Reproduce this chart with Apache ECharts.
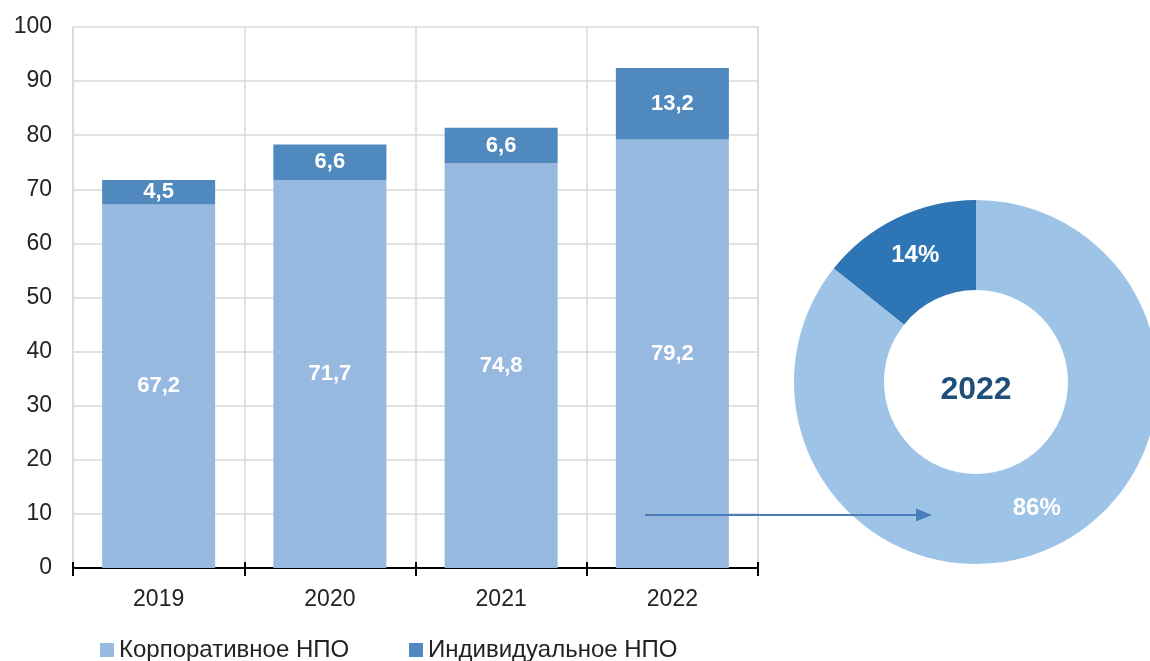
<!DOCTYPE html>
<html>
<head>
<meta charset="utf-8">
<script src="https://cdn.jsdelivr.net/npm/echarts@6/dist/echarts.min.js"></script>
<style>
  html, body { margin: 0; padding: 0; background: #fff; }
  #chart { width: 1150px; height: 661px; }
</style>
</head>
<body>
<div id="chart"></div>
<script>
// данные
const years = ["2019", "2020", "2021", "2022"];
const corporate = [67.2, 71.7, 74.8, 79.2];
const individual = [4.5, 6.6, 6.6, 13.2];
const seriesNames = ["Корпоративное НПО", "Индивидуальное НПО"];
const pieYear = "2022";
const pieValues = [13.2, 79.2]; // индивидуальное, корпоративное

const font = "Liberation Sans, Arial, sans-serif";
const lightBar = "#97b9e0";
const darkBar = "#4f89bd";
const gridColor = "#d9d9d9";

const chart = echarts.init(document.getElementById("chart"));

const comma = (v) => String(v).replace(".", ",");
const pieTotal = pieValues.reduce((a, b) => a + b, 0);

// легенда: два отдельных блока
const legendBase = {
  top: 633,
  itemWidth: 14,
  itemHeight: 14,
  icon: "rect",
  textStyle: { fontSize: 24, color: "#222", fontFamily: font },
};

const barLabel = {
  show: true,
  position: "inside",
  color: "#fff",
  fontSize: 22,
  fontWeight: "bold",
  fontFamily: font,
  formatter: (p) => comma(p.value),
};

const option = {
  animation: false,
  textStyle: { fontFamily: font },
  grid: { left: 73, right: 392, top: 27, bottom: 93 },
  legend: [
    Object.assign({}, legendBase, { left: 95, data: [seriesNames[0]] }),
    Object.assign({}, legendBase, { left: 404, data: [seriesNames[1]] }),
  ],
  xAxis: [
    {
      type: "category",
      data: years,
      axisLine: { lineStyle: { color: "#000", width: 2 } },
      axisTick: { show: true, length: 8, lineStyle: { color: "#000", width: 2 } },
      axisLabel: { fontSize: 23, color: "#222", margin: 20, fontFamily: font },
      splitLine: { show: true, lineStyle: { color: gridColor, width: 1.5 } },
    },
    {
      // внутренние засечки оси
      type: "category",
      data: years,
      position: "bottom",
      axisLine: { show: false },
      axisTick: { show: true, inside: true, length: 6, lineStyle: { color: "#000", width: 2 } },
      axisLabel: { show: false },
      splitLine: { show: false },
    },
  ],
  yAxis: [
    {
      type: "value",
      min: 0,
      max: 100,
      interval: 10,
      axisLine: { show: true, lineStyle: { color: gridColor, width: 1.5 } },
      axisTick: { show: false },
      axisLabel: { fontSize: 23, color: "#222", margin: 21, fontFamily: font },
      splitLine: { lineStyle: { color: gridColor, width: 1.5 } },
    },
    {
      type: "value",
      min: 0,
      max: 100,
      position: "right",
      axisLine: { show: true, lineStyle: { color: gridColor, width: 1.5 } },
      axisTick: { show: false },
      axisLabel: { show: false },
      splitLine: { show: false },
    },
  ],
  series: [
    {
      name: seriesNames[0],
      type: "bar",
      stack: "total",
      barWidth: "66%",
      data: corporate,
      itemStyle: { color: lightBar },
      label: barLabel,
      markLine: {
        silent: true,
        symbol: ["none", "triangle"],
        symbolSize: [13, 16],
        label: { show: false },
        lineStyle: { color: "#4a7ebb", width: 2, type: "solid" },
        data: [[{ x: 645, y: 515 }, { x: 924, y: 515 }]],
      },
    },
    {
      name: seriesNames[1],
      type: "bar",
      stack: "total",
      barWidth: "66%",
      data: individual,
      itemStyle: { color: darkBar },
      label: barLabel,
    },
    {
      type: "pie",
      center: [976, 382],
      radius: [92, 182],
      startAngle: 90,
      clockwise: false,
      silent: true,
      label: {
        show: true,
        position: "inside",
        color: "#fff",
        fontSize: 24,
        fontWeight: "bold",
        fontFamily: font,
        formatter: (p) => Math.round((p.value / pieTotal) * 100) + "%",
      },
      labelLine: { show: false },
      data: [
        { value: pieValues[0], itemStyle: { color: "#2e75b6" } },
        { value: pieValues[1], itemStyle: { color: "#9dc3e6" } },
      ],
    },
  ],
  graphic: [
    {
      type: "text",
      x: 976,
      y: 390,
      style: {
        text: pieYear,
        fill: "#1f4e79",
        font: "bold 32px " + font,
        align: "center",
        verticalAlign: "middle",
      },
    },
  ],
};

chart.setOption(option);
</script>
</body>
</html>
